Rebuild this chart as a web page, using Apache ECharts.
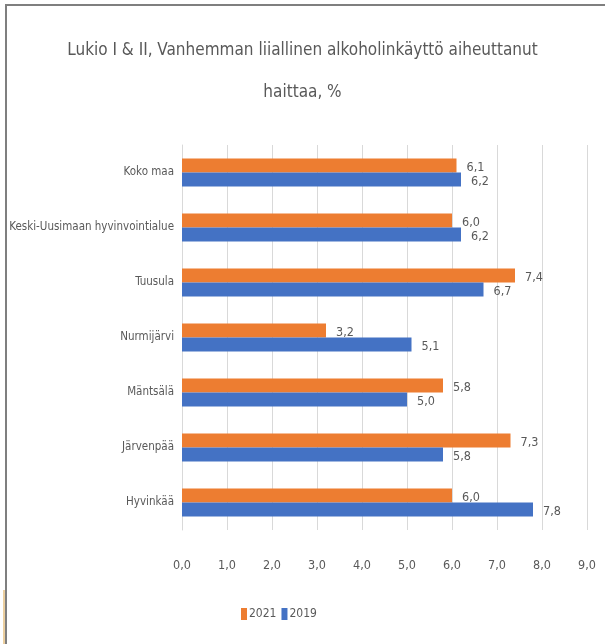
<!DOCTYPE html>
<html>
<head>
<meta charset="utf-8">
<script src="https://cdn.jsdelivr.net/npm/echarts@6/dist/echarts.min.js"></script>
<style>
  html, body { margin: 0; padding: 0; background: #fff; }
  #chart { width: 605px; height: 644px; }
</style>
</head>
<body>
<div id="chart"></div>
<script>
const categories = ['Koko maa', 'Keski-Uusimaan hyvinvointialue', 'Tuusula', 'Nurmijärvi', 'Mäntsälä', 'Järvenpää', 'Hyvinkää'];
const values2021 = [6.1, 6.0, 7.4, 3.2, 5.8, 7.3, 6.0];
const values2019 = [6.2, 6.2, 6.7, 5.1, 5.0, 5.8, 7.8];
const seriesNames = ['2021', '2019'];

const FONT = '"Liberation Sans Narrow", "DejaVu Sans Condensed", sans-serif';
const TEXT = '#595959';
const fmt = (v) => v.toFixed(1).replace('.', ',');

const chart = echarts.init(document.getElementById('chart'));

const barLabel = {
  show: true,
  position: 'right',
  distance: 10,
  offset: [0, 2],
  color: TEXT,
  fontFamily: FONT,
  fontSize: 12.5,
  formatter: (p) => fmt(p.value)
};

const option = {
  animation: false,
  backgroundColor: '#fff',
  title: {
    text: 'Lukio I & II, Vanhemman liiallinen alkoholinkäyttö aiheuttanut\nhaittaa, %',
    left: 'center',
    top: 25,
    textStyle: {
      color: TEXT,
      fontFamily: FONT,
      fontSize: 17,
      fontWeight: 'normal',
      lineHeight: 42
    }
  },
  legend: {
    data: seriesNames,
    left: 236,
    top: 603,
    icon: 'rect',
    itemWidth: 6,
    itemHeight: 12,
    itemGap: 5,
    textStyle: { color: TEXT, fontFamily: FONT, fontSize: 12, padding: [0, 0, 0, -3] }
  },
  grid: {
    left: 182,
    right: 18,
    top: 145,
    bottom: 114,
    containLabel: false,
    outerBoundsMode: 'none'
  },
  xAxis: {
    type: 'value',
    min: 0,
    max: 9,
    interval: 1,
    axisLine: { show: false },
    axisTick: { show: false },
    splitLine: { lineStyle: { color: '#d9d9d9', width: 1 } },
    axisLabel: {
      color: TEXT,
      fontFamily: FONT,
      fontSize: 12.5,
      margin: 29,
      formatter: fmt
    }
  },
  yAxis: {
    type: 'category',
    inverse: true,
    data: categories,
    axisLine: { show: true, lineStyle: { color: '#d9d9d9' } },
    axisTick: { show: false },
    axisLabel: {
      color: TEXT,
      fontFamily: FONT,
      fontSize: 11.5,
      margin: 8
    }
  },
  series: [
    {
      name: seriesNames[0],
      type: 'bar',
      data: values2021,
      barGap: '0%',
      barCategoryGap: '49%',
      itemStyle: { color: '#ED7D31' },
      label: barLabel
    },
    {
      name: seriesNames[1],
      type: 'bar',
      data: values2019,
      itemStyle: { color: '#4472C4' },
      label: barLabel
    }
  ],
  graphic: [
    { type: 'line', shape: { x1: 5, y1: 5, x2: 605, y2: 5 }, style: { stroke: '#7f7f7f', lineWidth: 2 } },
    { type: 'line', shape: { x1: 6, y1: 5, x2: 6, y2: 644 }, style: { stroke: '#7f7f7f', lineWidth: 2 } },
    { type: 'line', shape: { x1: 4, y1: 590, x2: 4, y2: 644 }, style: { stroke: '#d9a040', lineWidth: 1 } }
  ]
};

chart.setOption(option);

window.addEventListener('resize', () => chart.resize());
</script>
</body>
</html>
